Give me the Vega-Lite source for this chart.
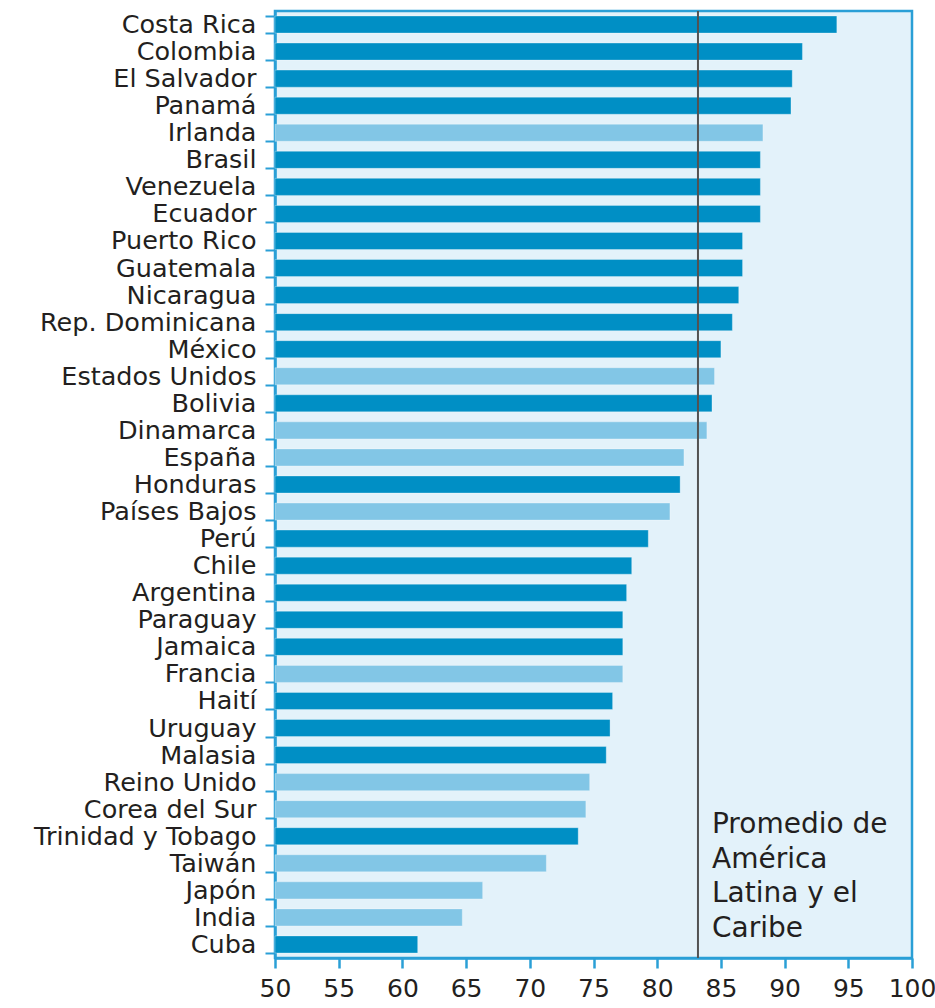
{
  "$schema": "https://vega.github.io/schema/vega-lite/v6.json",
  "width": 637,
  "height": 947,
  "autosize": {"type": "none"},
  "padding": {"left": 275, "top": 11, "right": 23, "bottom": 50},
  "background": "white",
  "config": {
    "view": {"fill": "#e3f2fa", "stroke": "#2a9fd6", "strokeWidth": 2.5},
    "font": "DejaVu Sans"
  },
  "layer": [
    {
      "data": {
        "values": [
          {"pais": "Costa Rica", "valor": 94.1, "grupo": "AL"},
          {"pais": "Colombia", "valor": 91.4, "grupo": "AL"},
          {"pais": "El Salvador", "valor": 90.6, "grupo": "AL"},
          {"pais": "Panamá", "valor": 90.5, "grupo": "AL"},
          {"pais": "Irlanda", "valor": 88.3, "grupo": "otro"},
          {"pais": "Brasil", "valor": 88.1, "grupo": "AL"},
          {"pais": "Venezuela", "valor": 88.1, "grupo": "AL"},
          {"pais": "Ecuador", "valor": 88.1, "grupo": "AL"},
          {"pais": "Puerto Rico", "valor": 86.7, "grupo": "AL"},
          {"pais": "Guatemala", "valor": 86.7, "grupo": "AL"},
          {"pais": "Nicaragua", "valor": 86.4, "grupo": "AL"},
          {"pais": "Rep. Dominicana", "valor": 85.9, "grupo": "AL"},
          {"pais": "México", "valor": 85.0, "grupo": "AL"},
          {"pais": "Estados Unidos", "valor": 84.5, "grupo": "otro"},
          {"pais": "Bolivia", "valor": 84.3, "grupo": "AL"},
          {"pais": "Dinamarca", "valor": 83.9, "grupo": "otro"},
          {"pais": "España", "valor": 82.1, "grupo": "otro"},
          {"pais": "Honduras", "valor": 81.8, "grupo": "AL"},
          {"pais": "Países Bajos", "valor": 81.0, "grupo": "otro"},
          {"pais": "Perú", "valor": 79.3, "grupo": "AL"},
          {"pais": "Chile", "valor": 78.0, "grupo": "AL"},
          {"pais": "Argentina", "valor": 77.6, "grupo": "AL"},
          {"pais": "Paraguay", "valor": 77.3, "grupo": "AL"},
          {"pais": "Jamaica", "valor": 77.3, "grupo": "AL"},
          {"pais": "Francia", "valor": 77.3, "grupo": "otro"},
          {"pais": "Haití", "valor": 76.5, "grupo": "AL"},
          {"pais": "Uruguay", "valor": 76.3, "grupo": "AL"},
          {"pais": "Malasia", "valor": 76.0, "grupo": "AL"},
          {"pais": "Reino Unido", "valor": 74.7, "grupo": "otro"},
          {"pais": "Corea del Sur", "valor": 74.4, "grupo": "otro"},
          {"pais": "Trinidad y Tobago", "valor": 73.8, "grupo": "AL"},
          {"pais": "Taiwán", "valor": 71.3, "grupo": "otro"},
          {"pais": "Japón", "valor": 66.3, "grupo": "otro"},
          {"pais": "India", "valor": 64.7, "grupo": "otro"},
          {"pais": "Cuba", "valor": 61.2, "grupo": "AL"}
        ]
      },
      "mark": {"type": "bar", "stroke": "#ffffff", "strokeOpacity": 0.3, "strokeWidth": 1},
      "encoding": {
        "y": {
          "field": "pais",
          "type": "nominal",
          "sort": null,
          "scale": {"paddingInner": 0.37, "paddingOuter": 0.185},
          "axis": {
            "title": null,
            "domainColor": "#2a9fd6",
            "domainWidth": 2.5,
            "tickColor": "#2a9fd6",
            "tickWidth": 2,
            "tickSize": 10,
            "tickBand": "extent",
            "labelFontSize": 25.5,
            "labelColor": "#231f20",
            "labelPadding": 9,
            "labelLimit": 300,
            "labelOverlap": false
          }
        },
        "x": {
          "field": "valor",
          "type": "quantitative",
          "scale": {"domain": [50, 100], "nice": false, "zero": false},
          "axis": {
            "title": null,
            "values": [50, 55, 60, 65, 70, 75, 80, 85, 90, 95, 100],
            "grid": false,
            "domainColor": "#2a9fd6",
            "domainWidth": 2.5,
            "tickColor": "#2a9fd6",
            "tickWidth": 2.5,
            "tickSize": 10,
            "labelFontSize": 25,
            "labelColor": "#231f20",
            "labelPadding": 8,
            "labelFlush": false,
            "labelOverlap": false
          }
        },
        "x2": {"datum": 50},
        "color": {
          "field": "grupo",
          "type": "nominal",
          "scale": {"domain": ["AL", "otro"], "range": ["#008fc5", "#82c6e6"]},
          "legend": null
        }
      }
    },
    {
      "data": {"values": [{"promedio": 83.2}]},
      "mark": {"type": "rule", "color": "#525252", "strokeWidth": 2},
      "encoding": {
        "x": {"field": "promedio", "type": "quantitative"}
      }
    },
    {
      "data": {"values": [{"pos": 84.3, "pais": "Trinidad y Tobago", "texto": "Promedio de\nAmérica\nLatina y el\nCaribe"}]},
      "mark": {
        "type": "text",
        "align": "left",
        "baseline": "alphabetic",
        "dy": -3,
        "fontSize": 28,
        "lineHeight": 34.5,
        "lineBreak": "\n",
        "color": "#231f20"
      },
      "encoding": {
        "x": {"field": "pos", "type": "quantitative"},
        "y": {"field": "pais", "type": "nominal", "sort": null},
        "text": {"field": "texto"}
      }
    }
  ]
}
